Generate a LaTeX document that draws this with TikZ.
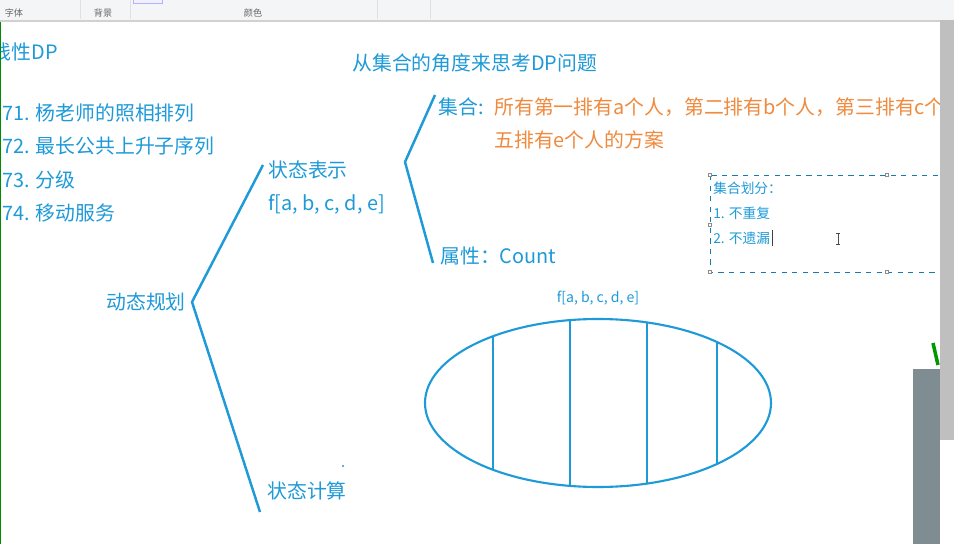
\documentclass[tikz,border=0pt]{standalone}
\usepackage{fontspec}
\setmainfont{Noto Sans CJK SC}
\usepackage{xcolor}
\usetikzlibrary{positioning}

\definecolor{inkblue}{HTML}{1E9AD8}
\definecolor{inkorange}{HTML}{EF8A3E}
\definecolor{barbg}{HTML}{F4F5F7}
\definecolor{panelgray}{HTML}{7F8D92}

\begin{document}
\begin{tikzpicture}[x=0.02cm, y=-0.02cm]
\tikzstyle{big}=[inner sep=0pt, anchor=west, text=inkblue, font=\fontsize{11.3}{13}\selectfont]
\tikzstyle{note}=[big, font=\fontsize{7.8}{9}\selectfont]
\tikzstyle{tool}=[inner sep=0pt, text=black!60, font=\fontsize{5.2}{6}\selectfont]
\tikzstyle{pen}=[draw=inkblue, line width=1.4pt, line join=round]
\tikzstyle{handle}=[draw=black!45, fill=white, line width=0.3pt]

\useasboundingbox (0,0) rectangle (954,544);
\clip (0,0) rectangle (954,544);
\fill[white] (0,0) rectangle (954,544);

% toolbar strip
\fill[barbg] (0,0) rectangle (954,20);
\draw[black!18, line width=1.6pt] (0,21) -- (954,21);
\foreach \sx in {80,130,377,430}
  \draw[black!12] (\sx,0) -- (\sx,19);
\draw[blue!30, fill=blue!6] (133,-2) rectangle (162,3);
\node[tool] (tfont) at (14,13) {字体};
\node[tool] (tback) at (103,13) {背景};
\node[tool] (tcolor) at (253,13) {颜色};

% left list
\node[big, anchor=east] (title) at (58,52) {线性DP};
\node[big] (q271) at (-9,113) {271. 杨老师的照相排列};
\node[big, below=19pt of q271.west, anchor=west] (q272) {272. 最长公共上升子序列};
\node[big, below=19pt of q272.west, anchor=west] (q273) {273. 分级};
\node[big, below=19pt of q273.west, anchor=west] (q274) {274. 移动服务};

\node[big] (angle) at (352,63) {从集合的角度来思考DP问题};

% tree
\node[big] (dp) at (106,302) {动态规划};
\node[big] (repr) at (268,170) {状态表示};
\node[big] (fvec) at (268,204) {f[a, b, c, d, e]};
\node[big] (calc) at (267,491) {状态计算};
\coordinate (dpv) at (192,302);
\coordinate (reprtip) at (263,165);
\coordinate (calctip) at (260,512);
\draw[pen] (reprtip) -- (dpv) -- (calctip);

\node[big] (setlbl) at (438,107) {集合:};
\node[big, text=inkorange] (setdesc) at (494,107) {所有第一排有a个人，第二排有b个人，第三排有c个};
\node[big, text=inkorange] (setdesc2) at (494,140) {五排有e个人的方案};
\node[big] (attr) at (440,256) {属性：Count};
\coordinate (reprv) at (405,162);
\coordinate (settip) at (435,95);
\coordinate (attrtip) at (433,263);
\draw[pen] (settip) -- (reprv) -- (attrtip);

% text box
\draw[inkblue!80!black, dashed, line width=0.5pt] (710,175) rectangle (980,272);
\foreach \hx/\hy in {710/175,887/175,710/225,710/272,887/272}
  \draw[handle] (\hx-1.6,\hy-1.6) rectangle (\hx+1.6,\hy+1.6);
\node[note] (parthead) at (713,188) {集合划分：};
\node[note] (part1) at (713,213) {1. 不重复};
\node[note] (part2) at (713,238) {2. 不遗漏};
\draw[black!75, line width=0.6pt] ([xshift=1.5pt]part2.east) ++(0,-8) -- ++(0,16);
\draw[black!70, line width=0.5pt] (838,233) -- (838,244) (836,233) -- (840,233) (836,244) -- (840,244);

% sets ellipse
\node[note, anchor=center, font=\fontsize{8}{9}\selectfont] (flabel) at (598,298) {f[a, b, c, d, e]};
\draw[draw=inkblue, line width=1.2pt] (598,403) ellipse [x radius=173, y radius=84];
\foreach \vx in {493,570,647,717} {
  \pgfmathsetmacro\vh{84*sqrt(1-((\vx-598)/173)^2)}
  \draw[draw=inkblue, line width=1.2pt] (\vx,403-\vh) -- (\vx,403+\vh);
}
\fill[inkblue] (343,466) circle (1.2);

% window edges
\draw[green!55!black, line width=1pt] (0.5,22) -- (0.5,544);
\fill[black!25] (940,20) rectangle (954,440);
\fill[panelgray] (913,369) rectangle (940,544);
\draw[green!60!black, line width=2pt] (933,343) -- (938,365);
\end{tikzpicture}
\end{document}
